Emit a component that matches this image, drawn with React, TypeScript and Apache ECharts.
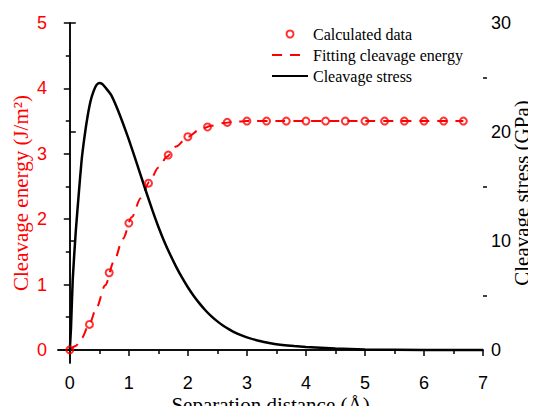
import React, { useEffect, useRef } from "react";
import * as echarts from "echarts";

// Calculated cleavage energy (J/m²) vs separation distance (Å)
const calcX = [0, 0.333, 0.667, 1, 1.333, 1.667, 2, 2.333, 2.667, 3, 3.333, 3.667, 4, 4.333, 4.667, 5, 5.333, 5.667, 6, 6.333, 6.667];
const calcY = [0, 0.39, 1.18, 1.94, 2.55, 2.98, 3.26, 3.41, 3.48, 3.5, 3.5, 3.5, 3.5, 3.5, 3.5, 3.5, 3.5, 3.5, 3.5, 3.5, 3.5];

// Fitting cleavage energy curve (J/m²)
const fitX = [0, 0.1, 0.2, 0.333, 0.45, 0.6, 0.75, 0.9, 1.05, 1.2, 1.35, 1.5, 1.65, 1.8, 2.0, 2.2, 2.4, 2.6, 2.8, 3.0, 3.5, 4, 5, 6, 6.667];
const fitY = [0, 0.06, 0.18, 0.4, 0.64, 0.99, 1.36, 1.7, 2.03, 2.32, 2.57, 2.79, 2.96, 3.11, 3.26, 3.37, 3.43, 3.47, 3.49, 3.5, 3.5, 3.5, 3.5, 3.5, 3.5];

// Cleavage stress curve (GPa)
const stressX = [0, 0.02, 0.05, 0.1, 0.15, 0.2, 0.25, 0.3, 0.35, 0.4, 0.45, 0.5, 0.55, 0.6, 0.7, 0.8, 0.9, 1.0, 1.1, 1.2, 1.3, 1.4, 1.5, 1.6, 1.7, 1.8, 1.9, 2.0, 2.1, 2.2, 2.3, 2.4, 2.5, 2.6, 2.7, 2.8, 2.9, 3.0, 3.2, 3.4, 3.6, 3.8, 4.0, 4.5, 5.0, 6.0, 7.0];
const stressY = [0, 2.0, 6.5, 10.8, 14.2, 17.4, 19.6, 21.4, 22.8, 23.7, 24.3, 24.5, 24.4, 24.1, 23.4, 22.2, 20.8, 19.3, 17.7, 16.05, 14.4, 12.8, 11.3, 9.95, 8.75, 7.65, 6.65, 5.75, 4.95, 4.25, 3.62, 3.08, 2.62, 2.22, 1.88, 1.59, 1.35, 1.15, 0.84, 0.62, 0.46, 0.35, 0.27, 0.12, 0.05, 0.0, 0.0];

// Tick values
const xMajor = [0, 1, 2, 3, 4, 5, 6, 7];
const xMinor = [0.5, 1.5, 2.5, 3.5, 4.5, 5.5, 6.5];
const yLeftMajor = [0, 1, 2, 3, 4, 5];
const yLeftMinor = [0.5, 1.5, 2.5, 3.5, 4.5];
const yRightMajor = [0, 10, 20, 30];
const yRightMinor = [5, 15, 25];

const RED = "#ff0000";
const SERIF = "'Liberation Serif', 'Times New Roman', serif";
const SANS = "'Liberation Sans', Arial, sans-serif";

export default function App() {
  const ref = useRef<HTMLDivElement>(null);

  useEffect(() => {
    if (!ref.current) return;
    const chart = echarts.init(ref.current, null, { renderer: "svg" });
    const axisLine = { show: true, lineStyle: { color: "#000", width: 1.5 } };

    const option: any = {
      animation: false,
      backgroundColor: "#fff",
      grid: { left: 58, right: 53, top: 23, bottom: 51, containLabel: false, outerBoundsMode: "none" },
      legend: {
        orient: "vertical",
        left: 266,
        top: 21,
        itemWidth: 36,
        itemHeight: 7,
        itemGap: 5,
        textStyle: { fontFamily: SERIF, fontSize: 16, color: "#000", lineHeight: 16 },
        data: [
          { name: "Calculated data" },
          { name: "Fitting cleavage energy", itemStyle: { opacity: 0 } },
          { name: "Cleavage stress", itemStyle: { opacity: 0 } },
        ],
      },
      xAxis: [
        {
          type: "value",
          min: -0.2,
          max: 7,
          position: "bottom",
          axisLine,
          splitLine: { show: false },
          axisTick: { show: true, inside: false, length: 6, customValues: xMajor, lineStyle: { color: "#000", width: 1.5 } },
          axisLabel: { customValues: xMajor, margin: 11, fontFamily: SANS, fontSize: 18, color: "#000" },
          name: "Separation distance (Å)",
          nameLocation: "middle",
          nameGap: 31,
          nameMoveOverlap: false,
          nameTextStyle: { fontFamily: SERIF, fontSize: 21, color: "#000" },
        },
        {
          type: "value",
          min: -0.2,
          max: 7,
          position: "bottom",
          axisLine: { show: false },
          splitLine: { show: false },
          axisTick: { show: true, length: 4, customValues: xMinor, lineStyle: { color: "#000", width: 1.5 } },
          axisLabel: { show: false },
        },
        {
          type: "value",
          min: -0.2,
          max: 7,
          position: "top",
          axisLine,
          splitLine: { show: false },
          axisTick: { show: false },
          axisLabel: { show: false },
        },
      ],
      yAxis: [
        {
          type: "value",
          min: -0.2,
          max: 5,
          position: "left",
          axisLine,
          splitLine: { show: false },
          axisTick: { show: true, length: 6, customValues: yLeftMajor, lineStyle: { color: "#000", width: 1.5 } },
          axisLabel: { customValues: yLeftMajor, margin: 11, fontFamily: SANS, fontSize: 18, color: RED },
          name: "Cleavage energy (J/m²)",
          nameLocation: "middle",
          nameRotate: 90,
          nameGap: 27,
          nameMoveOverlap: false,
          nameTextStyle: { fontFamily: SERIF, fontSize: 21, color: RED },
        },
        {
          type: "value",
          min: -1.2,
          max: 30,
          position: "right",
          axisLine,
          splitLine: { show: false },
          axisTick: { show: true, length: 6, customValues: yRightMajor, lineStyle: { color: "#000", width: 1.5 } },
          axisLabel: { customValues: yRightMajor, margin: 8, fontFamily: SANS, fontSize: 18, color: "#000" },
          name: "Cleavage stress (GPa)",
          nameLocation: "middle",
          nameRotate: 90,
          nameGap: 28,
          nameMoveOverlap: false,
          nameTextStyle: { fontFamily: SERIF, fontSize: 21, color: "#000" },
        },
        {
          type: "value",
          min: -0.2,
          max: 5,
          position: "left",
          axisLine: { show: false },
          splitLine: { show: false },
          axisTick: { show: true, length: 4, customValues: yLeftMinor, lineStyle: { color: "#000", width: 1.5 } },
          axisLabel: { show: false },
        },
        {
          type: "value",
          min: -1.2,
          max: 30,
          position: "right",
          axisLine: { show: false },
          splitLine: { show: false },
          axisTick: { show: true, length: 4, customValues: yRightMinor, lineStyle: { color: "#000", width: 1.5 } },
          axisLabel: { show: false },
        },
      ],
      series: [
        {
          name: "Fitting cleavage energy",
          type: "line",
          xAxisIndex: 0,
          yAxisIndex: 0,
          smooth: 0.3,
          smoothMonotone: "x",
          symbol: "none",
          showSymbol: false,
          lineStyle: { color: RED, width: 2, type: [10, 8] },
          itemStyle: { color: RED },
          data: fitX.map((x, i) => [x, fitY[i]]),
          z: 2,
        },
        {
          name: "Cleavage stress",
          type: "line",
          xAxisIndex: 0,
          yAxisIndex: 1,
          smooth: 0.2,
          symbol: "none",
          showSymbol: false,
          lineStyle: { color: "#000", width: 2.5 },
          itemStyle: { color: "#000" },
          data: stressX.map((x, i) => [x, stressY[i]]),
          z: 3,
        },
        {
          name: "Calculated data",
          type: "scatter",
          xAxisIndex: 0,
          yAxisIndex: 0,
          symbol: "circle",
          symbolSize: 7,
          itemStyle: { color: "rgba(255,255,255,0)", borderColor: RED, borderWidth: 2 },
          data: calcX.map((x, i) => [x, calcY[i]]),
          z: 4,
        },
      ],
    };

    chart.setOption(option);
    return () => chart.dispose();
  }, []);

  return <div ref={ref} style={{ width: 536, height: 414, margin: -8 }} />;
}
